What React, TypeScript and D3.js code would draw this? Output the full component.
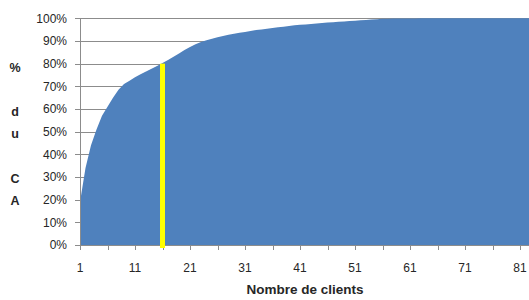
import React from "react";
import * as d3 from "d3";

const WIDTH = 529;
const HEIGHT = 300;

// cumulative share of turnover (% du CA) by number of clients
const cumulativeShare = [
  19, 34, 44, 51, 57, 61, 65, 68.5, 71, 72.5,
  74, 75.3, 76.5, 77.8, 79, 80.3, 81.6, 83, 84.5, 86,
  87.3, 88.5, 89.5, 90.3, 91, 91.6, 92.2, 92.7, 93.2, 93.6,
  94, 94.4, 94.8, 95.1, 95.4, 95.7, 96, 96.3, 96.6, 96.9,
  97.1, 97.3, 97.5, 97.7, 97.9, 98.1, 98.3, 98.5, 98.6, 98.8,
  98.95, 99.1, 99.3, 99.45, 99.6, 99.75, 99.85, 99.9, 99.92, 99.94,
  99.95, 99.96, 99.97, 99.97, 99.98, 99.98, 99.99, 99.99, 99.99, 100,
  100, 100, 100, 100, 100, 100, 100, 100, 100, 100,
  100, 100, 100, 100
];
const clients = cumulativeShare.map((_, i) => i + 1);

// the yellow marker: client reaching 80% of the CA
const markerClient = 16;
const markerShare = 80;

const yTicks = [0, 10, 20, 30, 40, 50, 60, 70, 80, 90, 100];
const xTickLabels = [1, 11, 21, 31, 41, 51, 61, 71, 81];
const xTickMarks = d3.range(1, 86, 5);
const yTitle = ["%", "", "d", "u", "", "C", "A"];
const xTitle = "Nombre de clients";

const FONT = "'Liberation Sans', Arial, sans-serif";

export default function App() {
  const x = d3.scaleLinear().domain([1, 81]).range([80, 520]);
  const y = d3.scaleLinear().domain([0, 100]).range([245, 18.3]);

  const area = d3
    .area<number>()
    .x((_, i) => x(clients[i]))
    .y0(y(0))
    .y1((d) => y(d));

  const plotRight = WIDTH;

  return (
    <div style={{ position: "absolute", left: 0, top: 0 }}>
      <svg width={WIDTH} height={HEIGHT} style={{ display: "block", background: "#fff" }}>
        <defs>
          <clipPath id="plot">
            <rect x={80} y={0} width={plotRight - 80} height={246} />
          </clipPath>
        </defs>

        {/* gridlines */}
        {yTicks.map((t) => (
          <line
            key={t}
            x1={80}
            x2={plotRight}
            y1={Math.round(y(t)) + 0.5}
            y2={Math.round(y(t)) + 0.5}
            stroke="#8c8c8c"
            strokeWidth={1}
          />
        ))}

        <path d={area(cumulativeShare) ?? ""} fill="#4f81bd" clipPath="url(#plot)" />

        {/* y axis */}
        <line x1={80.5} x2={80.5} y1={y(100)} y2={y(0)} stroke="#8c8c8c" />
        {yTicks.map((t) => (
          <g key={t}>
            <line x1={75} x2={80} y1={Math.round(y(t)) + 0.5} y2={Math.round(y(t)) + 0.5} stroke="#8c8c8c" />
            <text
              x={67}
              y={y(t)}
              dy="0.36em"
              textAnchor="end"
              fontFamily={FONT}
              fontSize={12}
              fill="#262626"
            >
              {t}%
            </text>
          </g>
        ))}

        {/* x axis */}
        <line x1={80} x2={plotRight} y1={245.5} y2={245.5} stroke="#8c8c8c" />
        {xTickMarks.map((c) => (
          <line
            key={c}
            x1={Math.round(x(c)) + 0.5}
            x2={Math.round(x(c)) + 0.5}
            y1={245}
            y2={250}
            stroke="#8c8c8c"
          />
        ))}
        {xTickLabels.map((c) => (
          <text
            key={c}
            x={x(c)}
            y={268}
            dy="0.36em"
            textAnchor="middle"
            fontFamily={FONT}
            fontSize={12}
            fill="#262626"
          >
            {c}
          </text>
        ))}

        {/* 80% marker */}
        <rect
          x={x(markerClient) - 2.5}
          y={y(markerShare)}
          width={5}
          height={y(0) - y(markerShare) + 3}
          fill="#ffff00"
        />

        {/* titles */}
        {yTitle.map((ch, i) => (
          <text
            key={i}
            x={15}
            y={67 + i * 22.2}
            dy="0.36em"
            textAnchor="middle"
            fontFamily={FONT}
            fontWeight="bold"
            fontSize={12.5}
            fill="#262626"
          >
            {ch}
          </text>
        ))}
        <text
          x={305}
          y={289}
          dy="0.36em"
          textAnchor="middle"
          fontFamily={FONT}
          fontWeight="bold"
          fontSize={13.5}
          fill="#262626"
        >
          {xTitle}
        </text>
      </svg>
    </div>
  );
}
